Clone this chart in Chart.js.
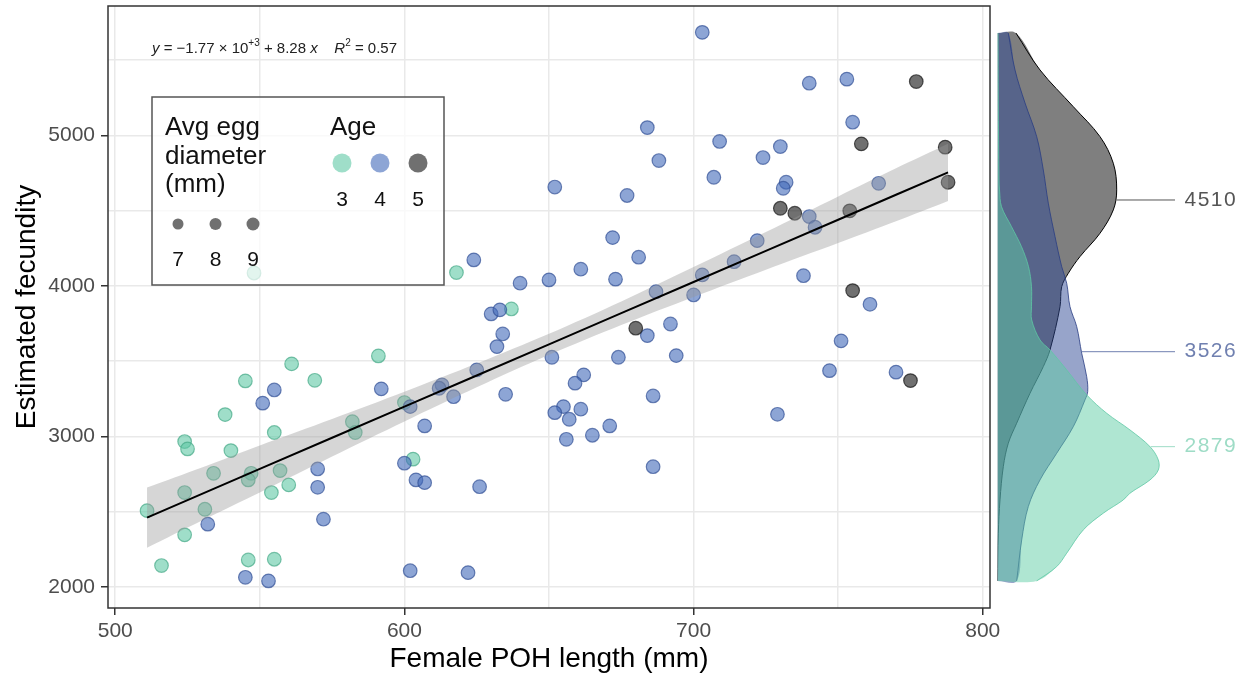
<!DOCTYPE html>
<html>
<head>
<meta charset="utf-8">
<title>Fecundity vs POH length</title>
<script src="https://cdn.jsdelivr.net/npm/chart.js@4/dist/chart.umd.min.js"></script>
<style>
    body { margin: 0; background: #fff; }
    #wrap { position: relative; width: 1249px; height: 680px; }
    #scatter { position: absolute; left: 0; top: 0; }
    #dens { position: absolute; left: 990px; top: 0; }
</style>
</head>
<body>
<div id="wrap">
    <canvas id="scatter" width="1015" height="680"></canvas>
    <canvas id="dens" width="259" height="680"></canvas>
</div>
<script>
// Age 3 fish
const age3Length = [591, 561, 545, 569, 538, 524, 525, 555, 540, 582, 583, 600, 534, 547, 546, 557, 560, 554, 524, 511, 531, 524, 516, 546, 555, 603, 637, 618, 548];
const age3Fecundity = [3535, 3482, 3369, 3373, 3145, 2966, 2917, 3026, 2906, 3098, 3026, 3225, 2755, 2755, 2711, 2773, 2678, 2627, 2627, 2507, 2516, 2346, 2142, 2179, 2184, 2849, 3847, 4089, 4086];

// Age 4 fish
const age4Length = [555, 551, 592, 600, 570, 570, 572, 532, 545, 553,
    630, 633, 634, 632, 625, 613, 612, 617, 635, 602, 607, 651, 662, 659, 655, 652, 657, 661, 656, 665, 671, 674, 684, 692, 694, 686, 686, 604, 607, 626, 602, 622,
    703, 684, 688, 652, 677, 672, 681, 624, 640, 650, 661, 673, 687, 700, 703,
    740, 753, 755, 709, 730, 724, 707, 732, 731, 764, 740, 742, 722, 714, 738, 761, 751, 747, 770, 729];
const age4Fecundity = [3309, 3221, 3316, 2822, 2784, 2662, 2450, 2417, 2064, 2040,
    3814, 3841, 3681, 3597, 3442, 3342, 3320, 3264, 3280, 3198, 3070, 3526, 3409, 3354, 3198, 3158, 3114, 3181, 2981, 3008, 3070, 3526, 3670, 3747, 3537, 3269, 2799, 2711, 2693, 2666, 2108, 2095,
    5685, 5052, 4833, 4657, 4601, 4321, 4191, 4173, 4018, 4040, 4111, 4045, 3962, 3940, 4073,
    5347, 5374, 5088, 4960, 4926, 4853, 4722, 4689, 4649, 4682, 4461, 4390, 4301, 4161, 4068, 3878, 3635, 3437, 3427, 3147];

// Age 5 fish
const age5Length = [680, 777, 758, 787, 788, 730, 735, 754, 755, 775];
const age5Fecundity = [3719, 5358, 4944, 4922, 4689, 4516, 4483, 4499, 3969, 3371];

// Linear fit and its confidence band
const fitLength = [511, 530, 550, 575, 600, 625, 650, 675, 700, 725, 750, 770, 788];
const fitFecundity = [2461, 2618, 2784, 2991, 3198, 3405, 3612, 3819, 4026, 4233, 4440, 4606, 4755];
const ciUpper = [2661, 2794, 2940, 3116, 3297, 3484, 3682, 3897, 4125, 4358, 4595, 4782, 4945];
const ciLower = [2261, 2442, 2628, 2866, 3099, 3326, 3542, 3741, 3927, 4108, 4285, 4430, 4565];

// Axis ticks (majors get labels, the rest are minor grid lines)
const xGridValues = [500, 550, 600, 650, 700, 750, 800];
const xTickLabels = [500, 600, 700, 800];
const yGridValues = [2000, 2500, 3000, 3500, 4000, 4500, 5000, 5500];
const yTickLabels = [2000, 3000, 4000, 5000];

// Marginal densities (fecundity level, density width)
const densGrayY = [5680, 5435, 5191, 4992, 4815, 4638, 4505, 4350, 4195, 4084, 3995, 3862, 3575, 3464, 3287, 3088, 2955, 2799, 2578, 2357, 2040];
const densGrayW = [0.185, 0.425, 0.758, 1.025, 1.158, 1.192, 1.158, 1.025, 0.825, 0.708, 0.642, 0.625, 0.525, 0.458, 0.325, 0.192, 0.108, 0.058, 0.025, 0.008, 0];
const densBlueY = [5680, 5435, 5216, 4992, 4771, 4550, 4328, 4128, 4018, 3862, 3730, 3553, 3397, 3298, 3243, 3065, 2888, 2711, 2534, 2312, 2040];
const densBlueW = [0.108, 0.175, 0.275, 0.392, 0.458, 0.508, 0.575, 0.642, 0.692, 0.725, 0.792, 0.842, 0.892, 0.902, 0.875, 0.758, 0.592, 0.425, 0.308, 0.242, 0.192];
const densGreenY = [5680, 5236, 4704, 4638, 4527, 4394, 4261, 4128, 3995, 3862, 3774, 3641, 3575, 3442, 3276, 3154, 3043, 2932, 2844, 2777, 2711, 2623, 2578, 2490, 2379, 2224, 2135, 2040];
const densGreenW = [0.005, 0.008, 0.015, 0.02, 0.04, 0.14, 0.24, 0.31, 0.34, 0.34, 0.342, 0.425, 0.525, 0.692, 0.892, 1.092, 1.325, 1.525, 1.608, 1.608, 1.525, 1.325, 1.258, 1.058, 0.858, 0.692, 0.592, 0.392];

// Density labels: text, level and where the leader line starts
const densLabels = ['4510', '3526', '2879'];
const densLabelY = [4571, 3563, 2932];
const densLabelStart = [1.19, 0.84, 1.53];

// Legend levels
const ageLevels = ['3', '4', '5'];
const eggLevels = ['7', '8', '9'];
const eggRadius = [5.5, 6, 6.5];

// Colours
const ageColors = ['rgba(95,200,165,0.6)', 'rgba(65,105,185,0.6)', 'rgba(35,35,35,0.65)'];
const ageBorders = ['rgba(70,170,135,0.7)', 'rgba(50,80,150,0.7)', 'rgba(20,20,20,0.7)'];
const densFill = ['rgba(95,205,165,0.5)', 'rgba(47,73,150,0.5)', 'rgba(0,0,0,0.5)'];
const densLine = ['rgba(95,200,165,0.8)', 'rgba(40,60,130,0.8)', '#000'];
const labelColors = ['#555555', '#7080b0', '#9edcc6'];

const FONT = "'Liberation Sans', Arial, sans-serif";

function toPoints(xs, ys) {
    return xs.map((x, i) => ({x: x, y: ys[i]}));
}

// Keep the panel edges fixed: no extra room for edge labels
function fixX(scale) {
    scale.height = 72;
    scale.paddingLeft = 0;
    scale.paddingRight = 0;
}
function fixY(scale) {
    scale.width = 108;
    scale.paddingTop = 0;
    scale.paddingBottom = 0;
}

// Panel frame, equation and the boxed legend
const decorPlugin = {
    id: 'decor',
    afterDatasetsDraw(chart) {
        const ctx = chart.ctx;
        const a = chart.chartArea;
        ctx.save();
        ctx.strokeStyle = '#333';
        ctx.lineWidth = 1.5;
        ctx.strokeRect(a.left, a.top, a.right - a.left, a.bottom - a.top);
        ctx.restore();
    },
    afterDraw(chart) {
        const ctx = chart.ctx;
        ctx.save();

        // regression equation
        const parts = [
            {t: 'y', it: true}, {t: ' = \u22121.77 \u00d7 10'}, {t: '+3', sup: true},
            {t: ' + 8.28 '}, {t: 'x', it: true}, {t: '    '}, {t: 'R', it: true},
            {t: '2', sup: true}, {t: ' = 0.57'}
        ];
        let ex = 152;
        ctx.fillStyle = '#222';
        ctx.textBaseline = 'alphabetic';
        ctx.textAlign = 'left';
        parts.forEach(p => {
            ctx.font = (p.it ? 'italic ' : '') + (p.sup ? '10px ' : '15px ') + FONT;
            ctx.fillText(p.t, ex, p.sup ? 46 : 53);
            ex += ctx.measureText(p.t).width;
        });

        // legend box
        ctx.fillStyle = 'rgba(255,255,255,0.7)';
        ctx.fillRect(152, 97, 292, 188);
        ctx.strokeStyle = '#555';
        ctx.lineWidth = 1.5;
        ctx.strokeRect(152, 97, 292, 188);

        ctx.fillStyle = '#111';
        ctx.font = '26px ' + FONT;
        ctx.fillText('Avg egg', 165, 135);
        ctx.fillText('diameter', 165, 164);
        ctx.fillText('(mm)', 165, 192);
        ctx.fillText('Age', 330, 135);

        ctx.font = '21px ' + FONT;
        ctx.textAlign = 'center';
        ageLevels.forEach((lab, i) => {
            const cx = 342 + i * 38;
            ctx.beginPath();
            ctx.arc(cx, 163, 9.5, 0, Math.PI * 2);
            ctx.fillStyle = ageColors[i];
            ctx.fill();
            ctx.fillStyle = '#111';
            ctx.fillText(lab, cx, 206);
        });
        eggLevels.forEach((lab, i) => {
            const cx = 178 + i * 37.5;
            ctx.beginPath();
            ctx.arc(cx, 224, eggRadius[i], 0, Math.PI * 2);
            ctx.fillStyle = 'rgba(35,35,35,0.65)';
            ctx.fill();
            ctx.fillStyle = '#111';
            ctx.fillText(lab, cx, 266);
        });
        ctx.restore();
    }
};

// Main scatter chart
const scatterChart = new Chart(document.getElementById('scatter'), {
    type: 'scatter',
    data: {
        datasets: [
            {
                type: 'line',
                data: toPoints(fitLength, fitFecundity),
                borderColor: '#000',
                borderWidth: 2,
                pointRadius: 0,
                fill: false,
                tension: 0
            },
            {
                type: 'line',
                data: toPoints(fitLength, ciUpper),
                borderColor: 'transparent',
                borderWidth: 0,
                pointRadius: 0,
                fill: '+1',
                backgroundColor: 'rgba(153,153,153,0.4)',
                tension: 0.3
            },
            {
                type: 'line',
                data: toPoints(fitLength, ciLower),
                borderColor: 'transparent',
                borderWidth: 0,
                pointRadius: 0,
                fill: false,
                tension: 0.3
            },
            {
                data: toPoints(age5Length, age5Fecundity),
                backgroundColor: ageColors[2],
                borderColor: ageBorders[2],
                borderWidth: 1.2,
                pointRadius: 6.8
            },
            {
                data: toPoints(age4Length, age4Fecundity),
                backgroundColor: ageColors[1],
                borderColor: ageBorders[1],
                borderWidth: 1.2,
                pointRadius: 6.8
            },
            {
                data: toPoints(age3Length, age3Fecundity),
                backgroundColor: ageColors[0],
                borderColor: ageBorders[0],
                borderWidth: 1.2,
                pointRadius: 6.8
            }
        ]
    },
    options: {
        responsive: false,
        animation: false,
        layout: { autoPadding: false, padding: { left: 0, top: 6, right: 25, bottom: 0 } },
        plugins: { legend: { display: false }, tooltip: { enabled: false } },
        scales: {
            x: {
                type: 'linear',
                min: 497.5,
                max: 802.5,
                afterBuildTicks: scale => { scale.ticks = xGridValues.map(v => ({value: v})); },
                afterFit: fixX,
                border: { display: false },
                grid: {
                    color: '#e9e9e9',
                    lineWidth: 1.5,
                    tickLength: 7,
                    tickWidth: 1.5,
                    tickColor: ctx => xTickLabels.includes(ctx.tick.value) ? '#333' : 'transparent'
                },
                ticks: {
                    padding: 4,
                    color: '#4d4d4d',
                    font: { family: FONT, size: 21 },
                    maxRotation: 0,
                    autoSkip: false,
                    callback: v => xTickLabels.includes(v) ? String(v) : ''
                },
                title: {
                    display: true,
                    text: 'Female POH length (mm)',
                    color: '#000',
                    font: { family: FONT, size: 28 },
                    padding: { top: 0, bottom: 4 }
                }
            },
            y: {
                type: 'linear',
                min: 1860,
                max: 5860,
                afterBuildTicks: scale => { scale.ticks = yGridValues.map(v => ({value: v})); },
                afterFit: fixY,
                border: { display: false },
                grid: {
                    color: '#e9e9e9',
                    lineWidth: 1.5,
                    tickLength: 7,
                    tickWidth: 1.5,
                    tickColor: ctx => yTickLabels.includes(ctx.tick.value) ? '#333' : 'transparent'
                },
                ticks: {
                    padding: 6,
                    color: '#4d4d4d',
                    font: { family: FONT, size: 21 },
                    autoSkip: false,
                    callback: v => yTickLabels.includes(v) ? String(v) : ''
                },
                title: {
                    display: true,
                    text: 'Estimated fecundity',
                    color: '#000',
                    font: { family: FONT, size: 28 },
                    padding: { top: 10, bottom: 0 }
                }
            }
        }
    },
    plugins: [decorPlugin]
});

// Density labels with leader lines
const densLabelPlugin = {
    id: 'densLabels',
    afterDraw(chart) {
        const ctx = chart.ctx;
        const xs = chart.scales.x;
        const ys = chart.scales.y;
        ctx.save();
        ctx.font = '21px ' + FONT;
        ctx.textAlign = 'left';
        ctx.textBaseline = 'middle';
        ctx.letterSpacing = '1.5px';
        densLabels.forEach((lab, i) => {
            const py = ys.getPixelForValue(densLabelY[i]);
            ctx.strokeStyle = labelColors[i];
            ctx.lineWidth = 1;
            ctx.beginPath();
            ctx.moveTo(xs.getPixelForValue(densLabelStart[i]), py);
            ctx.lineTo(xs.getPixelForValue(1.775), py);
            ctx.stroke();
            ctx.fillStyle = labelColors[i];
            ctx.fillText(lab, xs.getPixelForValue(1.87), py);
        });
        ctx.restore();
    }
};

// Build one density as a filled shape plus its outline
function densityDatasets(ys, ws, idx) {
    const curve = toPoints(ws, ys);
    const shape = [{x: 0, y: ys[0]}].concat(curve, [{x: 0, y: ys[ys.length - 1]}]);
    return [
        {
            type: 'line',
            data: curve,
            borderColor: densLine[idx],
            borderWidth: 1,
            pointRadius: 0,
            fill: false,
            tension: 0.35
        },
        {
            type: 'line',
            data: shape,
            borderColor: 'transparent',
            borderWidth: 0,
            pointRadius: 0,
            backgroundColor: densFill[idx],
            fill: 'shape',
            tension: 0.35
        }
    ];
}

// Marginal density chart
const densChart = new Chart(document.getElementById('dens'), {
    type: 'scatter',
    data: {
        datasets: [].concat(
            densityDatasets(densGreenY, densGreenW, 0),
            densityDatasets(densBlueY, densBlueW, 1),
            densityDatasets(densGrayY, densGrayW, 2)
        )
    },
    options: {
        responsive: false,
        animation: false,
        layout: { autoPadding: false, padding: { left: 7.5, right: 0, top: 6, bottom: 72 } },
        plugins: { legend: { display: false }, tooltip: { enabled: false } },
        scales: {
            x: { type: 'linear', display: false, min: 0, max: 2.515 },
            y: { type: 'linear', display: false, min: 1860, max: 5860 }
        }
    },
    plugins: [densLabelPlugin]
});
</script>
</body>
</html>
